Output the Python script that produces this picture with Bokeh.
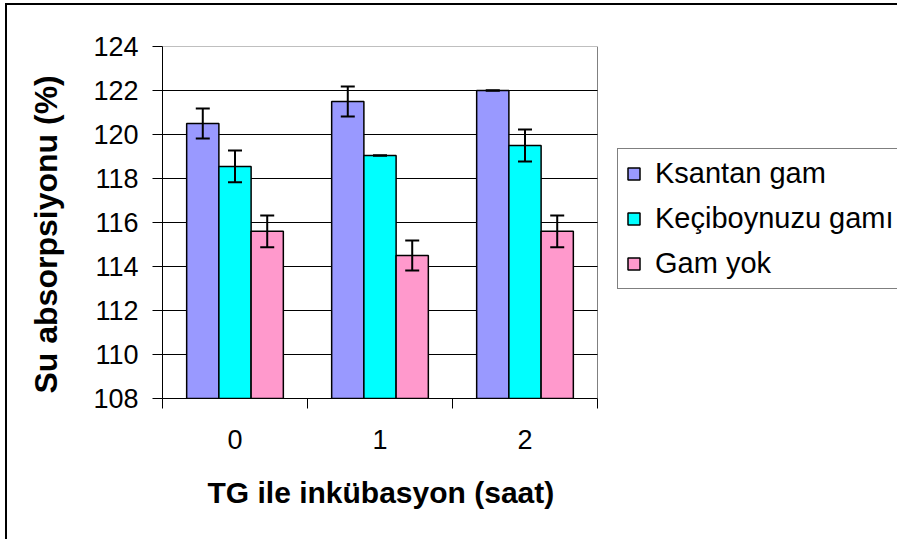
import numpy as np
from bokeh.plotting import figure
from bokeh.models import (ColumnDataSource, Range1d, FixedTicker, Whisker, TeeHead,
                          Legend, LegendItem, InlineStyleSheet, Title)
from bokeh.embed import file_html
from bokeh.resources import INLINE

# ---- data -------------------------------------------------------------
hours = ["0", "1", "2"]
series_names = ["Ksantan gam", "Keçiboynuzu gamı", "Gam yok"]
ksantan = [120.5, 121.5, 122.0]
keciboynuzu = [118.55, 119.05, 119.5]
gam_yok = [115.6, 114.5, 115.6]
ksantan_err = [0.68, 0.68, 0.0]
keciboynuzu_err = [0.72, 0.0, 0.73]
gam_yok_err = [0.72, 0.68, 0.72]
colors = ["#9999FF", "#00FFFF", "#FF99CC"]
y_ticks = [108, 110, 112, 114, 116, 118, 120, 122, 124]
x_title = "TG ile inkübasyon (saat)"
y_title = "Su absorpsiyonu (%)"

FONT = "Liberation Sans"
gap_width = 1.5
n_series = len(series_names)
bar_w = 1.0 / (n_series + gap_width)

# layout (pixels)
W, H = 897, 539
BORDER_L, BORDER_T, BORDER_R, BORDER_B = 162, 46, 0, 141
PLOT_AREA_W = 435          # width of the bar plot area; the rest on the right holds the legend
frame_w = W - BORDER_L - BORDER_R
x_lo = -0.5
x_hi_cat = len(hours) - 0.5
x_hi = x_lo + len(hours) * frame_w / PLOT_AREA_W

# outer chart border (left and top edges only are visible in the picture)
chart_border_css = (":host { background: "
                    "linear-gradient(#000, #000) 5px 3px / 2px 100% no-repeat, "
                    "linear-gradient(#000, #000) 5px 3px / 100% 2px no-repeat, "
                    "#ffffff; }")

p = figure(width=W, height=H, output_backend="svg", toolbar_location=None,
           x_range=Range1d(x_lo, x_hi),
           y_range=Range1d(y_ticks[0], y_ticks[-1]),
           min_border_left=BORDER_L, min_border_top=BORDER_T,
           min_border_right=BORDER_R, min_border_bottom=BORDER_B,
           stylesheets=[InlineStyleSheet(css=chart_border_css)])
p.background_fill_color = "white"
p.border_fill_color = None
p.outline_line_color = None
p.xgrid.visible = False
p.ygrid.visible = False

# plot-area frame (gray) and horizontal gridlines (black)
p.quad(left=x_lo, right=x_hi_cat, bottom=y_ticks[0], top=y_ticks[-1],
       fill_color=None, line_color="#808080", line_width=1)
inner = y_ticks[1:-1]
p.segment(x0=[x_lo] * len(inner), x1=[x_hi_cat] * len(inner), y0=inner, y1=inner,
          line_color="black", line_width=1)

# ---- bars & error bars --------------------------------------------------
values = [ksantan, keciboynuzu, gam_yok]
errors = [ksantan_err, keciboynuzu_err, gam_yok_err]
idx = np.arange(len(hours))
legend_items = []
for k, (name, vals, errs, col) in enumerate(zip(series_names, values, errors, colors)):
    xs = idx + (k - (n_series - 1) / 2) * bar_w
    vals = np.array(vals)
    errs = np.array(errs)
    src = ColumnDataSource(dict(x=xs, top=vals, upper=vals + errs, lower=vals - errs))
    r = p.vbar(x="x", top="top", bottom=y_ticks[0], width=bar_w, source=src,
               fill_color=col, line_color="black", line_width=1.5)
    legend_items.append(LegendItem(label=name, renderers=[r]))
    w = Whisker(source=src, base="x", upper="upper", lower="lower", dimension="height",
                line_color="black", line_width=2, level="annotation",
                upper_head=TeeHead(size=14, line_color="black", line_width=2),
                lower_head=TeeHead(size=14, line_color="black", line_width=2))
    p.add_layout(w)

# ---- axes ---------------------------------------------------------------
for ax in (p.xaxis[0], p.yaxis[0]):
    ax.axis_line_color = "black"
    ax.axis_line_width = 1
    ax.major_label_text_font = FONT
    ax.major_label_text_font_size = "27px"
    ax.major_label_text_color = "black"

p.xaxis.bounds = (x_lo, x_hi_cat)
p.xaxis.ticker = FixedTicker(ticks=list(idx), minor_ticks=list(np.arange(len(hours) + 1) - 0.5))
p.xaxis.major_label_overrides = {int(i): h for i, h in zip(idx, hours)}
p.xaxis.major_tick_out = 0
p.xaxis.major_tick_in = 0
p.xaxis.minor_tick_out = 10
p.xaxis.minor_tick_in = 0
p.xaxis.minor_tick_line_color = "black"
p.xaxis.major_label_standoff = 21

p.yaxis.ticker = FixedTicker(ticks=y_ticks)
p.yaxis.major_tick_out = 10
p.yaxis.major_tick_in = 0
p.yaxis.major_tick_line_color = "black"
p.yaxis.minor_tick_out = 0
p.yaxis.minor_tick_in = 0
p.yaxis.major_label_standoff = 14

# axis titles (placed as panel titles so they can be positioned under the bar area only)
xt = Title(text=x_title, align="left", offset=45, vertical_align="middle", standoff=47,
           text_font=FONT, text_font_size="30px", text_font_style="bold", text_color="black")
p.add_layout(xt, "below")
yt = Title(text=y_title, align="left", offset=5, vertical_align="middle", standoff=51,
           text_font=FONT, text_font_size="32px", text_font_style="bold", text_color="black")
p.add_layout(yt, "left")

# ---- legend -------------------------------------------------------------
legend = Legend(items=legend_items, location=(PLOT_AREA_W + 20, 109), orientation="vertical",
                label_text_font=FONT, label_text_font_size="29px", label_text_color="black",
                glyph_width=15, glyph_height=15, label_standoff=14, spacing=12,
                padding=8, margin=0, border_line_color="black", border_line_width=1,
                background_fill_color="white", background_fill_alpha=1.0)
p.add_layout(legend)

open("out.html", "w").write(file_html(p, INLINE))
